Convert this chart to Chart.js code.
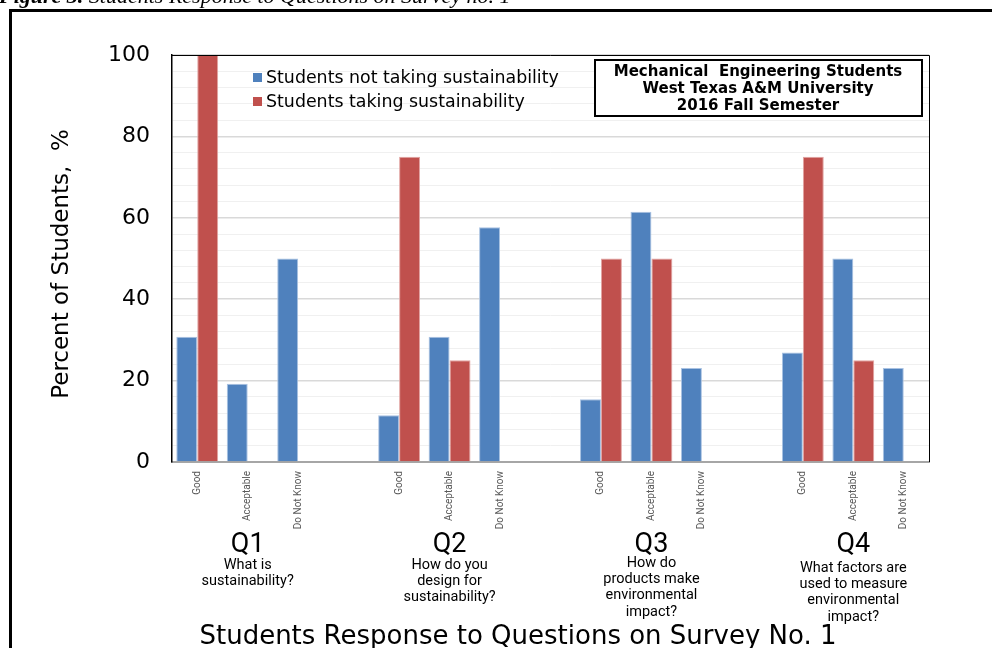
<!DOCTYPE html>
<html lang="en">

<head>
    <meta charset="utf-8">
    <script src="https://cdn.jsdelivr.net/npm/chart.js"></script>
    <style>
        body { margin: 0; background: #fff; }
        #wrap { position: relative; width: 992px; height: 648px; overflow: hidden; }
    </style>
</head>

<body>
    <div id="wrap">
        <canvas id="SurveyChart" width="992" height="648"></canvas>
    </div>

    <script>
        // Response categories repeated for each question, with an empty slot between questions
        var responses = ['Good', 'Acceptable', 'Do Not Know'];
        var questionNames = ['Q1', 'Q2', 'Q3', 'Q4'];
        var questionTexts = [
            ['What is', 'sustainability?'],
            ['How do you', 'design for', 'sustainability?'],
            ['How do', 'products make', 'environmental', 'impact?'],
            ['What factors are', 'used to measure', 'environmental', 'impact?']
        ];

        // Percent of students, null = gap slot
        var notTakingValues = [30.8, 19.2, 50.0, null, 11.5, 30.8, 57.7, null, 15.4, 61.5, 23.1, null, 26.9, 50.0, 23.1];
        var takingValues = [100, 0, 0, null, 75, 25, 0, null, 50, 50, 0, null, 75, 25, 0];

        var yTicks = [0, 20, 40, 60, 80, 100];
        var boxLines = ['Mechanical  Engineering Students', 'West Texas A&M University', '2016 Fall Semester'];

        // Build category labels
        var categories = [];
        questionNames.forEach(function (q, i) {
            responses.forEach(function (r) { categories.push(r); });
            if (i < questionNames.length - 1) categories.push('');
        });

        // Extra drawing: frame, caption, legend, title box, question labels
        var decorations = {
            id: 'decorations',
            afterDraw: function (chart) {
                var ctx = chart.ctx;
                var area = chart.chartArea;
                var xScale = chart.scales.x;
                ctx.save();

                // plot border (top / right)
                ctx.strokeStyle = '#000';
                ctx.lineWidth = 1;
                ctx.beginPath();
                ctx.moveTo(area.left, area.top + 0.5);
                ctx.lineTo(area.right + 0.5, area.top + 0.5);
                ctx.lineTo(area.right + 0.5, area.bottom);
                ctx.stroke();

                // outer frame
                ctx.lineWidth = 3;
                ctx.beginPath();
                ctx.moveTo(10.5, 700);
                ctx.lineTo(10.5, 10.5);
                ctx.lineTo(1000, 10.5);
                ctx.stroke();

                // figure caption (cut off at top)
                ctx.fillStyle = '#000';
                ctx.textBaseline = 'alphabetic';
                ctx.textAlign = 'left';
                ctx.font = 'italic bold 22px "Liberation Serif"';
                var lead = 'Figure 3. ';
                ctx.fillText(lead, -1, 3);
                var w = ctx.measureText(lead).width;
                ctx.font = 'italic 22px "Liberation Serif"';
                ctx.fillText('Students Response to Questions on Survey no. 1', -1 + w, 3);

                // legend
                ctx.font = '17.4px "DejaVu Sans"';
                ctx.textBaseline = 'middle';
                chart.data.datasets.forEach(function (ds, i) {
                    var y = 78 + i * 24;
                    ctx.fillStyle = ds.backgroundColor;
                    ctx.fillRect(253, y - 5, 9, 9);
                    ctx.fillStyle = '#000';
                    ctx.fillText(ds.label, 266, y);
                });

                // title box
                ctx.fillStyle = '#fff';
                ctx.fillRect(595, 60, 327, 56);
                ctx.strokeStyle = '#000';
                ctx.lineWidth = 2;
                ctx.strokeRect(595, 60, 327, 56);
                ctx.fillStyle = '#000';
                ctx.font = 'bold 15px "DejaVu Sans"';
                ctx.textAlign = 'center';
                boxLines.forEach(function (t, i) {
                    ctx.fillText(t, 758, 72 + i * 17);
                });

                // question labels under each group
                var startY = [565, 565, 563, 568];
                questionNames.forEach(function (q, i) {
                    var cx = xScale.getPixelForValue(i * 4 + 1);
                    ctx.font = '27px Roboto';
                    ctx.fillText(q, cx, 545);
                    ctx.font = '14.5px Roboto';
                    questionTexts[i].forEach(function (line, j) {
                        ctx.fillText(line, cx, startY[i] + j * 16.3);
                    });
                });

                // axis titles
                ctx.font = '26px "DejaVu Sans"';
                ctx.fillText('Students Response to Questions on Survey No. 1', 518, 637);

                ctx.translate(62, 264);
                ctx.rotate(-Math.PI / 2);
                ctx.font = '23px "DejaVu Sans"';
                ctx.fillText('Percent of Students,  %', 0, 0);

                ctx.restore();
            }
        };

        var ctx = document.getElementById('SurveyChart').getContext('2d');
        var myChart = new Chart(ctx, {
            type: 'bar',
            data: {
                labels: categories,
                datasets: [{
                    label: 'Students not taking sustainability',
                    data: notTakingValues,
                    backgroundColor: '#4F81BD',
                    borderColor: '#a9c2e2',
                    borderWidth: 1
                }, {
                    label: 'Students taking sustainability',
                    data: takingValues,
                    backgroundColor: '#C0504D',
                    borderColor: '#e2a4a2',
                    borderWidth: 1
                }]
            },
            options: {
                responsive: false,
                animation: false,
                layout: { padding: { top: 55, right: 63, left: 0, bottom: 0 } },
                plugins: {
                    legend: { display: false },
                    tooltip: { enabled: false }
                },
                datasets: {
                    bar: { categoryPercentage: 0.83, barPercentage: 1.0 }
                },
                scales: {
                    x: {
                        afterFit: function (scale) { scale.height = 186; },
                        grid: { display: false },
                        border: { color: '#a6a6a6', width: 2 },
                        ticks: {
                            autoSkip: false,
                            maxRotation: 90,
                            minRotation: 90,
                            padding: 1,
                            color: '#595959',
                            font: { family: 'Roboto', size: 10 }
                        }
                    },
                    y: {
                        min: 0,
                        max: 100,
                        afterFit: function (scale) { scale.width = 172; },
                        border: { color: '#000', width: 1.5 },
                        grid: {
                            drawTicks: false,
                            color: function (c) {
                                return yTicks.indexOf(c.tick.value) >= 0 ? '#d9d9d9' : '#f0f0f0';
                            },
                            lineWidth: function (c) {
                                return yTicks.indexOf(c.tick.value) >= 0 ? 1.5 : 1;
                            }
                        },
                        ticks: {
                            stepSize: 4,
                            autoSkip: false,
                            padding: 22,
                            color: '#000',
                            font: { family: 'DejaVu Sans', size: 22 },
                            callback: function (v) {
                                return yTicks.indexOf(v) >= 0 ? v : '';
                            }
                        }
                    }
                }
            },
            plugins: [decorations]
        });
    </script>
</body>

</html>
